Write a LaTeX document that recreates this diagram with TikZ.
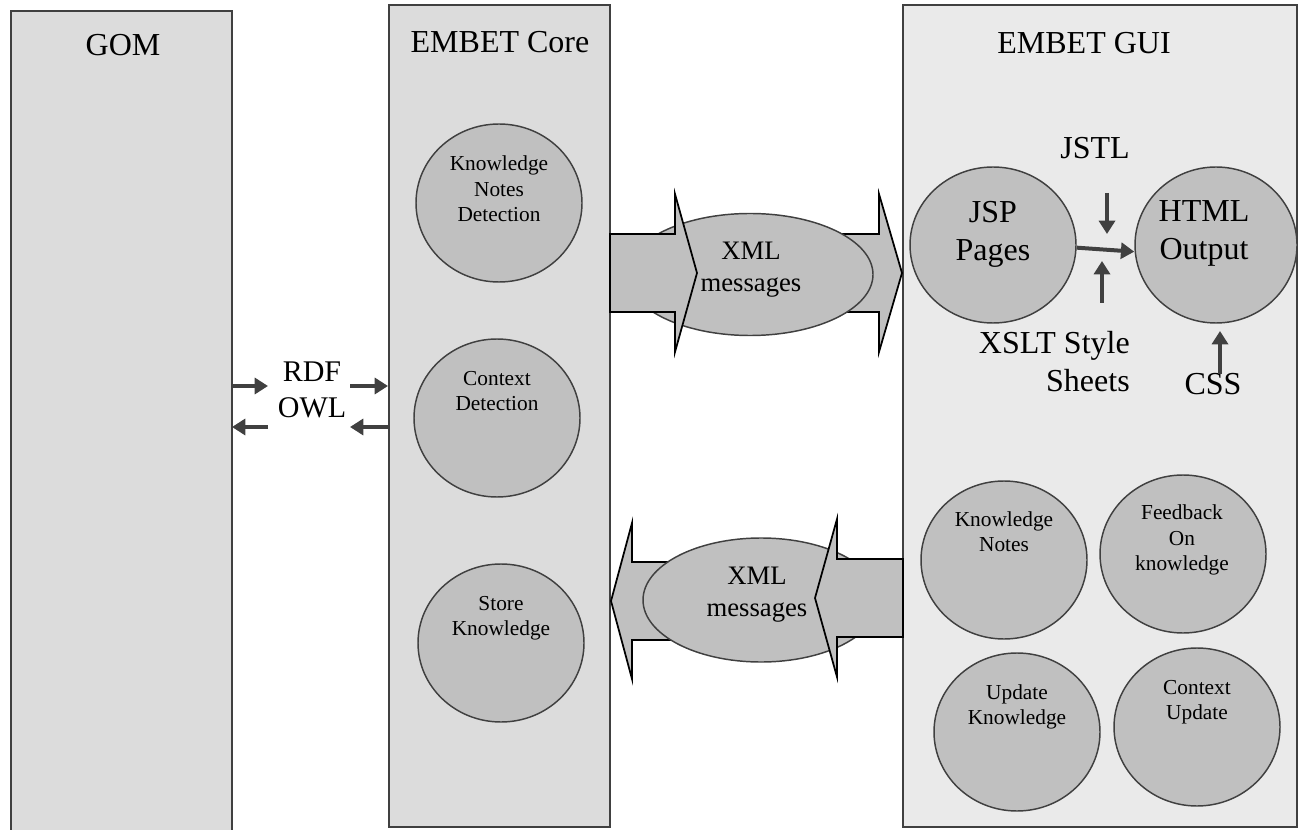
\documentclass[tikz,border=0pt]{standalone}
\usepackage{fontspec}
\setmainfont{Liberation Serif}
\usetikzlibrary{shapes.geometric,arrows.meta}
\definecolor{panelA}{HTML}{DCDCDC}
\definecolor{panelB}{HTML}{EAEAEA}
\definecolor{bubfill}{HTML}{C0C0C0}
\definecolor{edgegray}{HTML}{404040}
\begin{document}
\begin{tikzpicture}[x=0.75pt,y=-0.75pt,
  panel/.style={rectangle,draw=edgegray,line width=1.5pt,inner sep=0pt},
  bub/.style={ellipse,draw=edgegray,line width=1.1pt,fill=bubfill,inner sep=0pt},
  bigbub/.style={bub,minimum width=124.5pt,minimum height=118.5pt},
  blockarrow/.style={draw=black,line width=1.3pt,fill=bubfill,line join=miter},
  flow/.style={draw=edgegray,line width=3pt,-{Triangle[length=10pt,width=12pt]}},
  ttitle/.style={font=\fontsize{24}{28.5}\selectfont,align=center,inner sep=0pt},
  tbig/.style={font=\fontsize{24}{28.5}\selectfont,align=center,inner sep=0pt},
  tmid/.style={font=\fontsize{22.5}{27}\selectfont,align=center,inner sep=0pt},
  txml/.style={font=\fontsize{20}{24}\selectfont,align=center,inner sep=0pt},
  tsmall/.style={font=\fontsize{16}{19}\selectfont,align=center,inner sep=0pt}]
\useasboundingbox (0,0) rectangle (1299,830);
\clip (0,0) rectangle (1299,830);

% panels
\node[panel,fill=panelA,minimum width=165.75pt,minimum height=625.5pt] (gom) at (121.5,428) {};
\node[panel,fill=panelA,minimum width=165.75pt,minimum height=616.5pt] (core) at (499.5,416) {};
\node[panel,fill=panelB,minimum width=295.5pt,minimum height=616.5pt] (gui) at (1100,416) {};

\node[ttitle] (gomt) at (123,45) {GOM};
\node[ttitle] (coret) at (500,42) {EMBET Core};
\node[ttitle] (guit) at (1084,43) {EMBET GUI};

% core bubbles
\node[bigbub] (knd) at (499,203) {};
\node[tsmall] (kndt) at (499,189) {Knowledge\\Notes\\Detection};
\node[bigbub] (ctx) at (497,418) {};
\node[tsmall] (ctxt) at (497,391) {Context\\Detection};
\node[bigbub] (store) at (501,643) {};
\node[tsmall] (storet) at (501,618) {Store\\Knowledge};

% RDF / OWL
\node[tmid] (rdf) at (312,390) {RDF\\OWL};
\coordinate (a1s) at (232,386); \coordinate (a1e) at (268,386);
\coordinate (a2s) at (350,386); \coordinate (a2e) at (388,386);
\coordinate (b1s) at (268,427); \coordinate (b1e) at (232,427);
\coordinate (b2s) at (388,427); \coordinate (b2e) at (350,427);
\draw[flow] (a1s) -- (a1e);
\draw[flow] (a2s) -- (a2e);
\draw[flow] (b1s) -- (b1e);
\draw[flow] (b2s) -- (b2e);

% top block arrows (core -> gui)
\draw[blockarrow] (700,234) -- (879,234) -- (879,194) -- (902,273) -- (879,352) -- (879,312) -- (700,312) -- cycle;
\node[bub,minimum width=184.5pt,minimum height=91.5pt] (xml1) at (750,274.5) {};
\draw[blockarrow] (610,234) -- (675,234) -- (675,194) -- (697,273) -- (675,352) -- (675,312) -- (610,312) -- cycle;
\node[txml] (xml1t) at (751,270) {XML\\messages};

% bottom block arrows (gui -> core)
\draw[blockarrow] (740,562) -- (632,562) -- (632,523) -- (611,601) -- (632,679) -- (632,640) -- (740,640) -- cycle;
\node[bub,minimum width=177pt,minimum height=93pt] (xml2) at (761,600) {};
\draw[blockarrow] (903,559) -- (837,559) -- (837,519) -- (815,598) -- (837,677) -- (837,637) -- (903,637) -- cycle;
\node[txml] (xml2t) at (757,595) {XML\\messages};

% GUI upper part
\node[bub,minimum width=124.5pt,minimum height=117pt] (jsp) at (993,245) {};
\node[tbig] (jspt) at (993,234) {JSP\\Pages};
\node[bub,minimum width=121.5pt,minimum height=117pt] (html) at (1216,245) {};
\node[tbig] (htmlt) at (1204,233) {HTML\\Output};
\node[tbig] (jstl) at (1095,148) {JSTL};
\node[tbig,align=right,anchor=east] (xslt) at (1130,362) {XSLT Style\\Sheets};
\node[tbig] (css) at (1213,384) {CSS};
\draw[flow] ([yshift=-2pt]jsp.east) -- ([yshift=-5pt]html.west);
\coordinate (j1) at (1107,193); \coordinate (j2) at (1107,234);
\draw[flow] (j1) -- (j2);
\coordinate (x1) at (1102,303); \coordinate (x2) at (1102,261);
\draw[flow] (x1) -- (x2);
\coordinate (c1) at (1220,374); \coordinate (c2) at (1220,331);
\draw[flow] (c1) -- (c2);

% GUI lower bubbles
\node[bigbub] (kn) at (1004,560) {};
\node[tsmall] (knt) at (1004,532) {Knowledge\\Notes};
\node[bigbub] (fb) at (1183,554) {};
\node[tsmall] (fbt) at (1182,540) {Feedback\\On\\knowledge};
\node[bigbub] (uk) at (1017,732) {};
\node[tsmall] (ukt) at (1017,707) {Update\\Knowledge};
\node[bigbub] (cu) at (1197,727) {};
\node[tsmall] (cut) at (1197,702) {Context\\Update};
\end{tikzpicture}
\end{document}
